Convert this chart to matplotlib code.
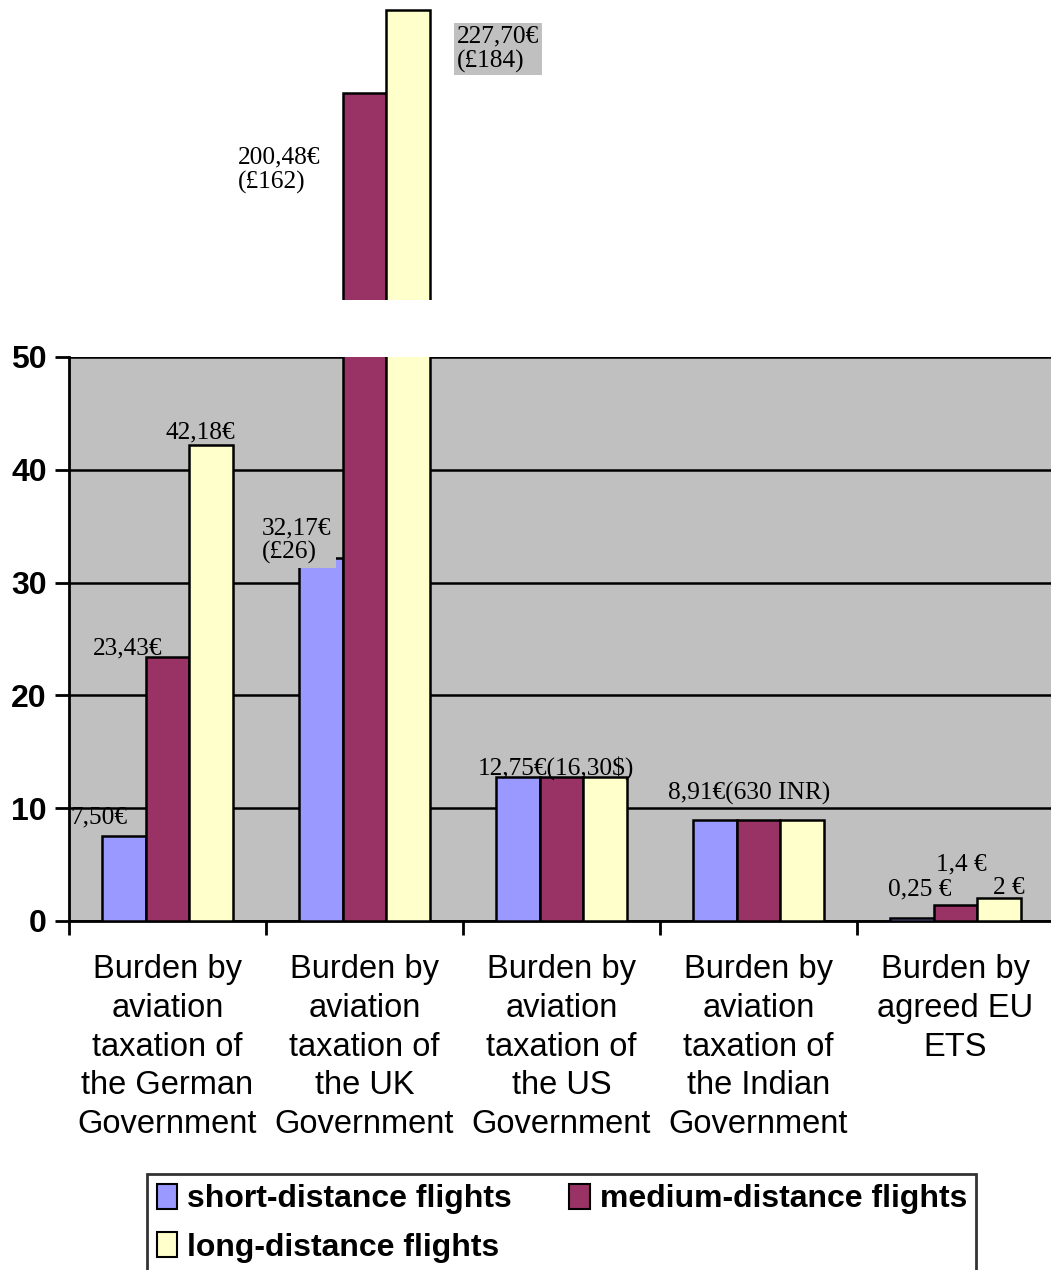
import numpy as np
import matplotlib.pyplot as plt
from matplotlib.patches import Patch

# data
categories = ["Burden by\naviation\ntaxation of\nthe German\nGovernment",
              "Burden by\naviation\ntaxation of\nthe UK\nGovernment",
              "Burden by\naviation\ntaxation of\nthe US\nGovernment",
              "Burden by\naviation\ntaxation of\nthe Indian\nGovernment",
              "Burden by\nagreed EU\nETS"]
series_names = ["short-distance flights", "medium-distance flights", "long-distance flights"]
short_vals = [7.50, 32.17, 12.75, 8.91, 0.25]
medium_vals = [23.43, 200.48, 12.75, 8.91, 1.4]
long_vals = [42.18, 227.70, 12.75, 8.91, 2.0]
colors = ["#9999FF", "#993366", "#FFFFCC"]

# labels (text, x, y)
main_labels = [("7,50€", -0.35, 9.2), ("23,43€", -0.20, 24.2), ("42,18€", 0.165, 43.35),
               ("12,75€(16,30$)", 1.972, 13.56), ("8,91€(630 INR)", 2.952, 11.35),
               ("0,25 €", 3.82, 2.84), ("1,4 €", 4.03, 5.05), ("2 €", 4.27, 2.93)]

W, H = 1051, 1270
fig = plt.figure(figsize=(W / 100, H / 100), dpi=100)

left = 69 / W
width = 985 / W
ax = fig.add_axes([left, 1 - 921 / H, width, (921 - 357) / H])
ax_top = fig.add_axes([left, 1 - 300 / H, width, 300 / H])

x = np.arange(len(categories))
bw = 0.223
all_vals = [short_vals, medium_vals, long_vals]

for a in (ax, ax_top):
    for i, vals in enumerate(all_vals):
        a.bar(x + (i - 1) * bw, vals, bw, color=colors[i], edgecolor="black",
              linewidth=1.8, zorder=3)
    a.set_xlim(-0.5, 4.5)

# main panel
ax.set_facecolor("#C0C0C0")
ax.set_ylim(0, 50)
ax.set_yticks([0, 10, 20, 30, 40, 50])
ax.yaxis.grid(True, color="black", linewidth=1.8, zorder=0)
ax.set_axisbelow(True)
for s in ["top", "right"]:
    ax.spines[s].set_visible(False)
ax.spines["left"].set_linewidth(2)
ax.spines["bottom"].set_linewidth(2)
ax.tick_params(axis="y", length=10, width=2, labelsize=23, pad=6)
for t in ax.get_yticklabels():
    t.set_fontweight("bold")
    t.set_family("Liberation Sans")
ax.set_xticks(x)
ax.set_xticklabels(categories, fontsize=23.5, family="Liberation Sans", linespacing=1.32)
ax.tick_params(axis="x", which="major", length=0, pad=24)
ax.set_xticks(np.arange(-0.5, 5, 1), minor=True)
ax.tick_params(axis="x", which="minor", length=10, width=2)

serif = "Liberation Serif"
fs = 18.3
for txt, lx, ly in main_labels:
    ax.text(lx, ly, txt, ha="center", va="center", fontsize=fs, family=serif, zorder=5)
ax.text(0.48, 33.7, "32,17€\n(£26)", ha="left", va="center", fontsize=fs, family=serif,
        linespacing=1.1, zorder=5,
        bbox=dict(facecolor="#C0C0C0", edgecolor="none", pad=3))

# top panel (broken axis)
ax_top.set_ylim(132.6, 231.0)
ax_top.axis("off")
ax_top.text(0.358, 175.2, "200,48€\n(£162)", ha="left", va="center", fontsize=fs,
            family=serif, linespacing=1.1)
ax_top.text(1.47, 214.9, "227,70€\n(£184)", ha="left", va="center", fontsize=fs,
            family=serif, linespacing=1.1,
            bbox=dict(facecolor="#C0C0C0", edgecolor="none", pad=2))

handles = [Patch(facecolor=colors[i], edgecolor="black", linewidth=1.5) for i in range(3)]
order = [0, 2, 1]
leg = fig.legend([handles[i] for i in order], [series_names[i] for i in order],
                 loc="upper left", bbox_to_anchor=(147 / W, 1 - 1174 / H), ncol=2,
                 frameon=True, fancybox=False, edgecolor="black", borderaxespad=0,
                 prop={"family": "Liberation Sans", "weight": "bold", "size": 23},
                 handlelength=0.65, handleheight=0.85, handletextpad=0.3,
                 columnspacing=1.8, borderpad=0.3, labelspacing=0.55)
leg.get_frame().set_linewidth(2)

fig.savefig("out.png", dpi=100)
